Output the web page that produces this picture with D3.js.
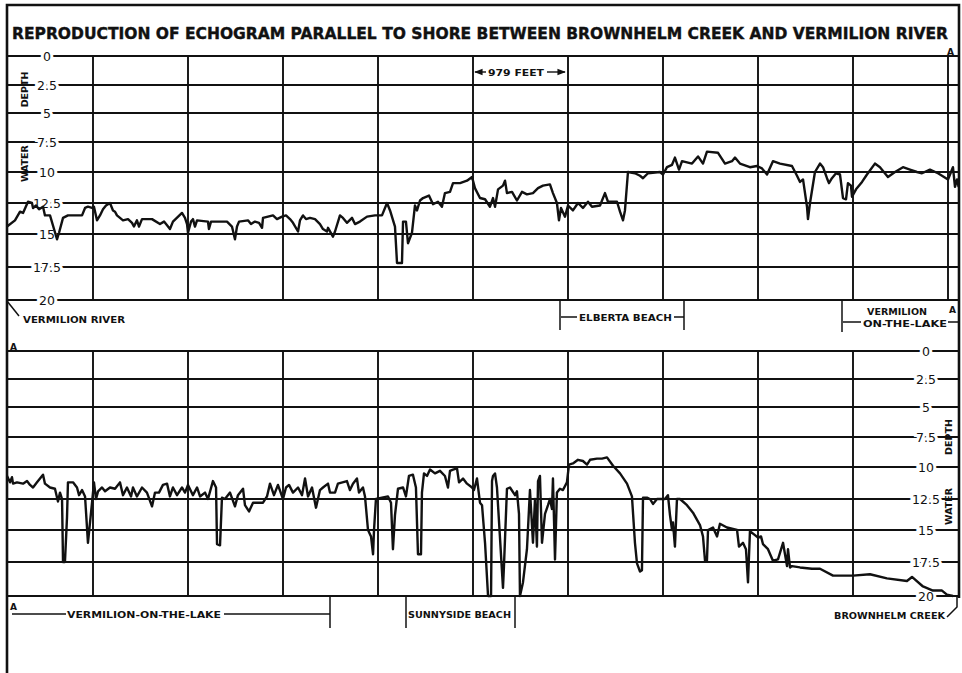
<!DOCTYPE html>
<html>
<head>
<meta charset="utf-8">
<script src="https://cdn.jsdelivr.net/npm/d3@7"></script>
<style>
body { margin: 0; background: #fff; }
text { font-family: "DejaVu Sans", sans-serif; fill: #111; }
</style>
</head>
<body>
<script>
var title = "REPRODUCTION OF ECHOGRAM PARALLEL TO SHORE BETWEEN BROWNHELM CREEK AND VERMILION RIVER";
var depthTicks = [0, 2.5, 5, 7.5, 10, 12.5, 15, 17.5, 20];
var depthLabels = ["0", "2.5", "5", "7.5", "10", "12.5", "15", "17.5", "20"];
var feetPerDivision = 979;

// [distance in feet, water depth in feet] -- upper strip, Vermilion River -> A
var upperProfile = [
  [93,14.4],[175,13.9],[227,13.2],[258,13.3],[309,12.4],[350,12.5],[361,12.9],[392,12.7],[423,13.0],[464,12.8],
  [484,13.5],[536,13.5],[608,15.4],[629,14.9],[670,13.7],[721,13.5],[763,13.5],[866,13.5],[897,12.9],[927,12.8],
  [969,12.9],[989,12.8],[1020,13.9],[1051,13.5],[1082,13.0],[1113,12.7],[1154,12.5],[1185,13.1],[1206,13.2],[1226,13.5],
  [1288,13.9],[1340,13.8],[1381,14.1],[1401,14.4],[1432,13.9],[1453,14.4],[1484,13.8],[1587,13.8],[1669,14.2],[1711,14.0],
  [1742,14.3],[1772,14.6],[1803,14.0],[1896,13.3],[1927,13.7],[1948,14.2],[1958,14.9],[1989,14.0],[2009,13.8],[2030,14.4],
  [2051,13.9],[2164,14.0],[2174,14.6],[2195,14.0],[2360,14.0],[2411,14.4],[2442,15.4],[2463,14.4],[2484,14.0],[2576,13.9],
  [2607,14.2],[2648,14.0],[2690,14.1],[2721,14.5],[2731,13.7],[2834,13.5],[2875,13.8],[2927,13.6],[2968,13.5],[3009,13.8],
  [3040,14.1],[3092,14.8],[3112,13.9],[3143,13.5],[3174,13.8],[3215,13.7],[3267,13.8],[3318,14.2],[3349,14.6],[3390,14.8],
  [3401,14.5],[3452,15.2],[3473,14.8],[3524,13.5],[3555,13.7],[3596,14.1],[3648,13.7],[3679,14.2],[3730,14.0],[3803,13.6],
  [3885,13.5],[3957,13.5],[4009,12.5],[4040,13.1],[4091,14.4],[4112,17.2],[4163,17.2],[4174,14.0],[4204,14.0],[4225,15.7],
  [4266,14.9],[4297,12.7],[4318,13.1],[4349,12.3],[4380,12.1],[4441,11.9],[4483,12.6],[4534,12.4],[4575,12.8],[4606,11.7],
  [4658,11.6],[4689,10.9],[4761,10.9],[4833,10.7],[4885,10.4],[4915,11.3],[4967,12.1],[5019,12.2],[5070,12.8],[5101,12.1],
  [5122,12.8],[5153,11.4],[5204,11.1],[5225,10.7],[5245,11.7],[5297,11.6],[5348,12.3],[5400,11.6],[5451,11.8],[5513,11.7],
  [5565,11.3],[5616,11.1],[5688,11.0],[5719,11.7],[5760,12.5],[5781,13.9],[5802,12.9],[5843,13.6],[5874,12.7],[5925,13.1],
  [5977,12.5],[6028,12.9],[6080,12.4],[6121,12.8],[6204,12.7],[6255,11.7],[6286,12.4],[6379,12.4],[6410,13.2],[6441,13.9],
  [6461,13.1],[6492,10.0],[6564,10.1],[6616,10.3],[6647,10.5],[6698,10.1],[6822,10.0],[6853,10.2],[6894,9.6],[6946,9.4],
  [6976,8.8],[7018,9.8],[7049,9.1],[7152,9.3],[7214,8.7],[7265,9.3],[7306,8.3],[7420,8.4],[7492,9.3],[7564,9.1],
  [7595,8.8],[7646,9.3],[7749,9.6],[7821,9.5],[7873,9.7],[7925,10.2],[7986,9.1],[8059,9.3],[8182,9.5],[8234,10.3],
  [8265,10.8],[8296,10.6],[8337,12.8],[8347,13.8],[8368,12.5],[8419,10.0],[8471,9.3],[8502,9.6],[8543,10.5],[8563,10.9],
  [8594,10.5],[8636,10.1],[8677,10.2],[8708,12.1],[8739,12.2],[8759,10.9],[8790,11.1],[8801,12.0],[8842,11.4],[8904,10.8],
  [8955,10.2],[9037,9.3],[9089,9.6],[9171,10.4],[9244,10.0],[9326,9.6],[9398,9.8],[9470,10.0],[9522,10.1],[9604,9.8],
  [9687,10.1],[9790,10.6],[9841,9.6],[9862,11.2],[9883,10.6],[9900,11.2]
];

// lower strip, A -> Brownhelm Creek
var lowerProfile = [
  [93,10.7],[124,11.2],[144,10.8],[155,11.3],[196,11.2],[258,11.3],[299,11.1],[330,11.4],[361,11.6],[402,11.2],
  [433,10.9],[464,10.6],[484,11.3],[536,11.6],[587,11.7],[618,12.7],[639,12.0],[660,12.5],[670,17.5],[690,17.5],
  [711,14.0],[721,11.2],[773,11.2],[814,11.6],[835,12.2],[866,11.8],[897,12.3],[927,16.0],[969,12.8],[989,11.2],
  [1010,12.5],[1031,11.9],[1072,11.6],[1103,11.9],[1154,11.6],[1206,11.7],[1257,11.2],[1288,12.2],[1329,11.6],[1371,12.3],
  [1391,11.6],[1432,12.3],[1484,11.6],[1535,12.0],[1587,13.1],[1618,12.0],[1659,12.0],[1700,11.4],[1742,11.3],[1772,12.3],
  [1803,11.6],[1845,12.2],[1896,11.6],[1927,12.0],[1958,11.4],[2009,12.2],[2051,11.6],[2082,12.3],[2133,12.0],[2164,12.5],
  [2215,11.1],[2247,11.6],[2257,16.1],[2288,16.2],[2308,12.4],[2339,12.5],[2391,12.0],[2442,13.1],[2473,12.2],[2525,11.7],
  [2545,13.0],[2587,13.5],[2628,12.8],[2731,12.8],[2772,12.3],[2803,11.3],[2844,12.2],[2885,11.4],[2937,12.5],[2968,11.6],
  [2999,11.4],[3040,12.0],[3092,11.6],[3133,12.2],[3164,10.9],[3195,12.3],[3236,11.6],[3277,13.2],[3318,11.8],[3349,11.6],
  [3401,11.3],[3421,12.0],[3473,12.0],[3503,11.3],[3596,11.1],[3627,11.8],[3658,11.3],[3699,10.9],[3720,12.0],[3761,11.6],
  [3782,12.3],[3813,15.0],[3844,15.5],[3865,16.9],[3875,15.0],[3895,12.5],[4019,12.3],[4050,12.8],[4070,16.5],[4091,13.8],
  [4122,11.7],[4174,11.6],[4204,12.3],[4235,10.7],[4276,10.6],[4307,11.6],[4328,16.9],[4359,16.9],[4369,12.0],[4390,10.5],
  [4421,10.7],[4452,10.2],[4503,10.5],[4555,10.3],[4606,10.7],[4637,11.6],[4658,10.3],[4689,10.2],[4730,10.1],[4751,11.2],
  [4792,10.9],[4833,11.3],[4885,11.6],[4905,11.8],[4936,10.9],[4967,12.8],[4988,13.0],[5019,16.0],[5050,20.0],[5081,20.0],
  [5091,11.1],[5101,10.7],[5122,10.5],[5142,11.6],[5204,19.4],[5214,17.8],[5245,11.7],[5276,11.6],[5328,12.2],[5348,11.9],
  [5369,13.7],[5379,20.0],[5410,19.0],[5451,16.5],[5482,11.8],[5513,16.0],[5534,12.5],[5554,16.3],[5565,11.1],[5585,10.7],
  [5606,16.0],[5637,13.7],[5668,13.0],[5688,12.5],[5709,13.3],[5719,10.9],[5740,17.3],[5760,12.0],[5791,11.7],[5822,11.8],
  [5863,11.2],[5884,9.8],[5925,9.7],[5977,9.4],[6028,9.5],[6070,9.8],[6101,9.4],[6173,9.3],[6224,9.3],[6276,9.2],
  [6338,9.9],[6410,10.5],[6482,11.3],[6533,12.3],[6564,16.0],[6585,17.6],[6616,18.2],[6636,18.1],[6647,12.4],[6688,12.4],
  [6719,12.5],[6750,12.9],[6791,12.5],[6873,12.5],[6904,12.2],[6925,13.8],[6946,15.0],[6956,14.4],[6976,16.3],[6997,12.5],
  [7028,12.5],[7100,13.0],[7162,13.6],[7234,14.6],[7265,15.5],[7286,17.4],[7306,17.4],[7317,15.0],[7368,14.8],[7410,15.5],
  [7440,14.5],[7512,14.8],[7616,15.0],[7636,16.3],[7677,16.0],[7708,16.5],[7729,19.0],[7749,15.1],[7801,15.4],[7832,15.6],
  [7863,15.5],[7883,16.1],[7935,16.5],[7986,17.4],[8038,17.3],[8090,16.0],[8131,17.8],[8141,16.5],[8162,17.9],[8182,17.8],
  [8265,17.9],[8388,18.0],[8471,18.0],[8605,18.5],[8811,18.5],[8986,18.4],[9161,18.7],[9367,18.9],[9419,18.6],[9532,19.3],
  [9635,19.6],[9728,19.6],[9779,19.9],[9841,20.0]
];

var W = 962, H = 673;
var ink = "#111";

var svg = d3.select("body").append("svg")
    .attr("width", W)
    .attr("height", H);

var x = d3.scaleLinear().domain([0, 10 * feetPerDivision]).range([-2, 948]);
// the scanned grid is not quite even, so the depth scales follow the printed rulings
var yTop = d3.scaleLinear().domain(depthTicks).range([56, 85, 113, 142, 172, 203, 234, 267, 300]);
var yBot = d3.scaleLinear().domain(depthTicks).range([351, 379, 407, 437, 467, 499, 530, 562, 596]);

svg.append("defs").append("marker")
    .attr("id", "arrow")
    .attr("viewBox", "0 0 10 10")
    .attr("refX", 9).attr("refY", 5)
    .attr("markerWidth", 6).attr("markerHeight", 6)
    .attr("orient", "auto-start-reverse")
  .append("path")
    .attr("d", "M0,1L10,5L0,9z")
    .attr("fill", ink);

// outer frame
svg.append("path")
    .attr("d", "M7,673V5H959V598")
    .attr("fill", "none")
    .attr("stroke", ink)
    .attr("stroke-width", 2.6);

svg.append("text")
    .attr("x", 12).attr("y", 39)
    .attr("font-size", 15.5)
    .attr("font-weight", "bold")
    .attr("stroke", ink).attr("stroke-width", 0.4)
    .attr("textLength", 936)
    .attr("lengthAdjust", "spacingAndGlyphs")
    .text(title);

function drawPanel(y, nVert, labelX, sideX, sideY, profile) {
  var g = svg.append("g");

  g.selectAll(".h").data(depthTicks).enter().append("line")
      .attr("x1", 7).attr("x2", 959)
      .attr("y1", function(d) { return y(d); })
      .attr("y2", function(d) { return y(d); })
      .attr("stroke", ink).attr("stroke-width", 1.8);

  g.selectAll(".v").data(d3.range(1, nVert + 1)).enter().append("line")
      .attr("x1", function(d) { return x(d * feetPerDivision); })
      .attr("x2", function(d) { return x(d * feetPerDivision); })
      .attr("y1", y(0)).attr("y2", y(20))
      .attr("stroke", ink).attr("stroke-width", 1.9);

  g.selectAll(".lab").data(depthTicks).enter().append("text")
      .attr("x", labelX)
      .attr("y", function(d) { return y(d) + 4.5; })
      .attr("text-anchor", "middle")
      .attr("font-size", 12.5)
      .attr("stroke", "#fff").attr("stroke-width", 6)
      .attr("paint-order", "stroke")
      .text(function(d, i) { return depthLabels[i]; });

  ["DEPTH", "WATER"].forEach(function(s, i) {
    g.append("text")
        .attr("transform", "translate(" + sideX + "," + y(sideY[i]) + ") rotate(-90)")
        .attr("text-anchor", "middle")
        .attr("font-size", 9.5)
        .attr("font-weight", "bold")
        .text(s);
  });

  var line = d3.line()
      .x(function(d) { return x(d[0]); })
      .y(function(d) { return y(d[1]); });

  g.append("path")
      .datum(profile)
      .attr("d", line)
      .attr("fill", "none")
      .attr("stroke", ink)
      .attr("stroke-width", 2.4)
      .attr("stroke-linejoin", "round");
}

drawPanel(yTop, 10, 47, 28, [2.9, 9.3], upperProfile);
drawPanel(yBot, 9, 926, 952, [7.5, 13.1], lowerProfile);

function label(txt, x0, y0, len, size) {
  svg.append("text")
      .attr("x", x0).attr("y", y0)
      .attr("font-size", size || 9.5)
      .attr("font-weight", "bold")
      .attr("textLength", len)
      .attr("lengthAdjust", "spacingAndGlyphs")
      .text(txt);
}
function rule(pts, w) {
  svg.append("path")
      .attr("d", d3.line()(pts))
      .attr("fill", "none")
      .attr("stroke", ink)
      .attr("stroke-width", w || 1.5);
}

// 979 feet scale bar
label("979 FEET", 488, 76, 56);
svg.append("line").attr("x1", 486).attr("x2", 475).attr("y1", 72).attr("y2", 72)
    .attr("stroke", ink).attr("stroke-width", 1.4).attr("marker-end", "url(#arrow)");
svg.append("line").attr("x1", 547).attr("x2", 565).attr("y1", 72).attr("y2", 72)
    .attr("stroke", ink).attr("stroke-width", 1.4).attr("marker-end", "url(#arrow)");

// place names under the upper strip
rule([[7, 301], [19, 316]]);
label("VERMILION RIVER", 23, 323, 102);

rule([[560, 300], [560, 330]]);
rule([[684, 300], [684, 330]]);
rule([[561, 317], [577, 317]]);
rule([[674, 317], [684, 317]]);
label("ELBERTA BEACH", 579, 321, 93);

rule([[842, 300], [842, 332]]);
rule([[843, 322], [861, 322]]);
rule([[948, 322], [958, 322]]);
label("VERMILION", 867, 315, 60);
label("ON-THE-LAKE", 863, 327, 84);

label("A", 947, 55, 7, 8);
label("A", 949, 313, 7, 8);

// place names under the lower strip
label("A", 10, 350, 7, 8);
label("A", 10, 610, 7, 8);
rule([[12, 614], [66, 614]]);
label("VERMILION-ON-THE-LAKE", 67, 618, 154);
rule([[224, 614], [330, 614]]);
rule([[330, 596], [330, 628]]);
rule([[406, 596], [406, 628]]);
label("SUNNYSIDE BEACH", 408, 618, 103);
rule([[515, 596], [515, 628]]);

label("BROWNHELM CREEK", 834, 619, 111);
rule([[957, 597], [957, 607], [947, 617]]);
</script>
</body>
</html>
